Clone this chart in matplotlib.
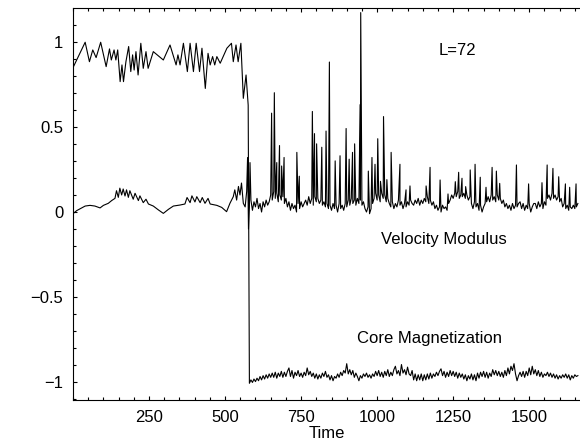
import numpy as np
import matplotlib
matplotlib.use('Agg')
import matplotlib.pyplot as plt
from matplotlib.ticker import MultipleLocator

plt.rcParams['font.family'] = ['Liberation Sans', 'DejaVu Sans']

# core magnetization, before the flip
mag_pre_t = [0, 40, 54, 65, 76, 91, 109, 120, 126, 135, 141, 147, 155, 161, 166,
             174, 183, 190, 196, 201, 207, 214, 223, 231, 240, 247, 264, 277, 297,
             319, 339, 345, 352, 363, 376, 385, 396, 405, 416, 424, 435, 444, 451,
             459, 466, 473, 484, 506, 521, 527, 536, 543, 552, 560, 569, 576]
mag_pre_v = [0.847, 0.996, 0.882, 0.951, 0.906, 0.996, 0.853, 0.957, 0.892, 0.951,
             0.892, 0.951, 0.765, 0.863, 0.765, 0.882, 0.971, 0.824, 0.922, 0.833,
             0.941, 0.804, 0.990, 0.843, 0.941, 0.843, 0.941, 0.922, 0.892, 0.980,
             0.863, 0.922, 0.863, 0.990, 0.824, 0.990, 0.824, 0.990, 0.824, 0.961,
             0.725, 0.931, 0.863, 0.912, 0.863, 0.912, 0.873, 0.961, 0.990, 0.882,
             0.980, 0.882, 0.990, 0.667, 0.804, 0.627]

# core magnetization after the flip, one reading every 5 time units from t=580
mag_post_t = np.arange(580, 1661, 5)
mag_post_v = [
    -1.005, -0.985, -1.0, -0.98, -0.995, -0.975, -0.99, -0.965, -0.985, -0.96,
    -0.98, -0.955, -0.975, -0.95, -0.97,
    -0.945, -0.97, -0.94, -0.975, -0.945, -0.965, -0.935, -0.97, -0.94, -0.965,
    -0.935, -0.915, -0.965, -0.93, -0.975, -0.94, -0.96, -0.93, -0.965, -0.945,
    -0.97, -0.94, -0.96, -0.915, -0.955, -0.935, -0.965, -0.945, -0.975, -0.95,
    -0.98, -0.955, -0.975, -0.945, -0.965, -0.935, -0.97, -0.955, -0.985, -0.96,
    -0.99, -0.965, -0.975, -0.95, -0.97, -0.94, -0.96, -0.93, -0.945, -0.89,
    -0.95, -0.925, -0.955, -0.93, -0.97, -0.945, -0.965, -0.99, -0.96, -0.975,
    -0.95, -0.965, -0.945, -0.97, -0.955, -0.975, -0.95, -0.965, -0.935, -0.96,
    -0.93, -0.965, -0.94, -0.97, -0.935, -0.96, -0.925, -0.965, -0.94, -0.96,
    -0.925, -0.905, -0.95, -0.93, -0.96, -0.895, -0.945, -0.925, -0.955, -0.91,
    -0.95, -0.96, -0.93, -0.985, -0.95, -0.99, -0.955, -0.985, -0.95, -0.99,
    -0.955, -0.985, -0.95, -0.98, -0.945, -0.975, -0.95, -0.965, -0.94, -0.96,
    -0.935, -0.92, -0.96, -0.935, -0.97, -0.94, -0.965, -0.93, -0.96, -0.935,
    -0.965, -0.94, -0.975, -0.945, -0.97, -0.95, -0.98, -0.955, -0.99, -0.96,
    -0.98, -0.95, -0.985, -0.955, -0.99, -0.945, -0.975, -0.94, -0.965, -0.935,
    -0.97, -0.94, -0.975, -0.945, -0.965, -0.925, -0.955, -0.93, -0.96, -0.935,
    -0.965, -0.94, -0.97, -0.93, -0.96, -0.915, -0.95, -0.905, -0.93, -0.89,
    -0.95, -0.99, -0.96, -0.94, -0.965, -0.935, -0.97, -0.935, -0.96, -0.915,
    -0.955, -0.905, -0.95, -0.925, -0.96, -0.93, -0.965, -0.94, -0.97, -0.95,
    -0.96, -0.94, -0.965, -0.945, -0.97, -0.95, -0.975, -0.955, -0.98, -0.96,
    -0.975, -0.955, -0.97, -0.95, -0.975, -0.955, -0.985, -0.96, -0.975, -0.955,
    -0.965, -0.96]

# velocity modulus before the flip
vel_pre_t = [0, 12, 40, 56, 72, 89, 100, 116, 127, 138, 149, 160, 171, 182, 198,
             215, 231, 248, 264, 281, 297, 314, 330, 352, 368, 385, 401, 418, 434,
             451, 473, 489, 505, 516, 527, 538, 549, 560, 566, 571, 574, 577]
vel_pre_v = [-0.01, 0.008, 0.035, 0.039, 0.035, 0.024, 0.039, 0.051, 0.067, 0.080,
             0.086, 0.100, 0.094, 0.086, 0.075, 0.067, 0.055, 0.047, 0.035, 0.012,
             -0.008, 0.016, 0.035, 0.041, 0.047, 0.055, 0.059, 0.055, 0.051, 0.047,
             0.039, 0.027, 0.002, 0.051, 0.09, 0.07, 0.10, 0.051, 0.03, 0.12,
             0.32, -0.10]

# velocity modulus noise floor after the flip, every 5 time units from t=580
vel_post_t = np.arange(580, 1661, 5)
vel_post_v = [
    0.03, 0.07, 0.01, 0.06, 0.03, 0.08, 0.02, 0.05, 0.00, 0.06, 0.03, 0.07, 0.04,
    0.06, 0.10, 0.07, 0.12, 0.08, 0.11, 0.06, 0.10, 0.07, 0.09, 0.05, 0.08,
    0.03, 0.06, 0.01, 0.05, 0.02, 0.04, 0.00, 0.05, 0.02, 0.06, 0.03, 0.05,
    0.07, 0.04, 0.09, 0.05, 0.08, 0.04, 0.09, 0.06, 0.08, 0.05, 0.07, 0.04, 0.06, 0.03,
    0.05, 0.02, 0.04, 0.01, 0.05, 0.02, 0.04, 0.00, 0.05, 0.02, 0.04, 0.01, 0.05, 0.03,
    0.07, 0.04, 0.08, 0.05, 0.07, 0.04, 0.08, 0.05, 0.07, 0.04, 0.06,
    0.02, 0.00, 0.03, -0.01, 0.02, 0.05,
    0.08, 0.11, 0.07, 0.10, 0.06, 0.11, 0.08, 0.10, 0.06, 0.08,
    0.05, 0.03, 0.06, 0.02, 0.05, 0.03, 0.07, 0.04, 0.06, 0.02, 0.05, 0.03, 0.06, 0.04,
    0.07, 0.05,
    0.04, 0.07, 0.05, 0.08, 0.04, 0.07, 0.05, 0.08, 0.06, 0.09, 0.05, 0.07, 0.04, 0.06,
    0.02, 0.04, 0.01, 0.03, 0.00, 0.04, 0.02, 0.03, 0.01, 0.05,
    0.07, 0.10, 0.08, 0.11, 0.09, 0.12, 0.08, 0.10, 0.09, 0.11, 0.08, 0.10, 0.07, 0.09,
    0.05, 0.02, 0.06, 0.03, 0.05, 0.01, 0.04, 0.00, 0.03, 0.05,
    0.06, 0.09, 0.06, 0.10, 0.07, 0.09, 0.06, 0.10, 0.07, 0.08, 0.05, 0.07,
    0.03, 0.05, 0.02, 0.04, 0.01, 0.05, 0.02, 0.04, 0.03, 0.05,
    0.06, 0.02, 0.05, 0.01, 0.04, 0.02, 0.05, 0.00, 0.03, 0.05,
    0.05, 0.02, 0.06, 0.03, 0.05, 0.02, 0.06, 0.04,
    0.08, 0.10, 0.07, 0.11, 0.08, 0.10, 0.07, 0.09, 0.06, 0.08,
    0.03, 0.05, 0.02, 0.04, 0.01, 0.03, 0.02, 0.04, 0.02, 0.03, 0.05]

# velocity spikes (peak time, peak value)
vel_spike_t = [143, 154, 165, 176, 187, 204, 220, 240, 375, 391, 407, 425, 444, 532, 544, 554,
               582, 653, 662, 670, 679, 686, 694, 736, 744, 787, 794, 801, 818, 832, 843,
               862, 878, 898, 908, 919, 926, 944, 946, 971, 983, 993, 1002, 1011, 1021,
               1032, 1046, 1075, 1095, 1108, 1161, 1174, 1207, 1233, 1257, 1268, 1279,
               1291, 1306, 1322, 1339, 1358, 1378, 1392, 1403, 1458, 1498, 1542, 1559,
               1578, 1597, 1619, 1633, 1654]
vel_spike_v = [0.125, 0.14, 0.135, 0.13, 0.125, 0.11, 0.095, 0.075, 0.085, 0.095, 0.09, 0.085,
               0.08, 0.13, 0.15, 0.17,
               0.29, 0.58, 0.70, 0.29, 0.39, 0.27, 0.32, 0.35, 0.21, 0.59, 0.46, 0.40, 0.38,
               0.475, 0.88, 0.30, 0.33, 0.49, 0.31, 0.35, 0.40, 0.63, 1.17, 0.24, 0.32, 0.28,
               0.43, 0.18, 0.56, 0.19, 0.35, 0.28, 0.13, 0.153, 0.153, 0.262, 0.188, 0.106,
               0.178, 0.233, 0.198, 0.149, 0.247, 0.28, 0.204, 0.145, 0.262, 0.24, 0.168,
               0.276, 0.165, 0.172, 0.276, 0.256, 0.207, 0.165, 0.145, 0.165]

xtick_values = [250, 500, 750, 1000, 1250, 1500]
ytick_values = [-1, -0.5, 0, 0.5, 1]
ytick_labels = ['\u22121', '\u22120.5', '0', '0.5', '1']

# join the pieces into two lines
mag_t = np.concatenate([mag_pre_t, mag_post_t])
mag_v = np.concatenate([mag_pre_v, mag_post_v])

vel_t = np.concatenate([vel_pre_t, vel_spike_t, vel_post_t])
vel_v = np.concatenate([vel_pre_v, vel_spike_v, vel_post_v])
order = np.argsort(vel_t, kind='stable')
vel_t, vel_v = vel_t[order], vel_v[order]

fig = plt.figure(figsize=(5.8, 4.43), dpi=100)
ax = fig.add_axes([73 / 580, 1 - 400 / 443, 1 - 73 / 580, 392 / 443])

ax.plot(mag_t, mag_v, color='black', lw=0.8)
ax.plot(vel_t, vel_v, color='black', lw=0.8)

ax.set_xlim(0, 1667)
ax.set_ylim(-1.103, 1.197)

ax.set_xticks(xtick_values)
ax.set_yticks(ytick_values)
ax.set_yticklabels(ytick_labels)
ax.xaxis.set_minor_locator(MultipleLocator(50))
ax.yaxis.set_minor_locator(MultipleLocator(0.1))
ax.tick_params(which='both', direction='in', top=True, right=False,
               labelsize=12, pad=7, width=0.8)
ax.tick_params(which='major', length=3)
ax.tick_params(which='minor', length=2)
ax.spines['right'].set_visible(False)
for s in ['left', 'top', 'bottom']:
    ax.spines[s].set_linewidth(0.8)

ax.set_xlabel('Time', fontsize=12, labelpad=1)

ax.text(1201, 0.95, 'L=72', fontsize=12, va='center', ha='left')
ax.text(1013, -0.164, 'Velocity Modulus', fontsize=12, va='center', ha='left')
ax.text(934, -0.745, 'Core Magnetization', fontsize=12, va='center', ha='left')

fig.savefig('out.png', dpi=100)
